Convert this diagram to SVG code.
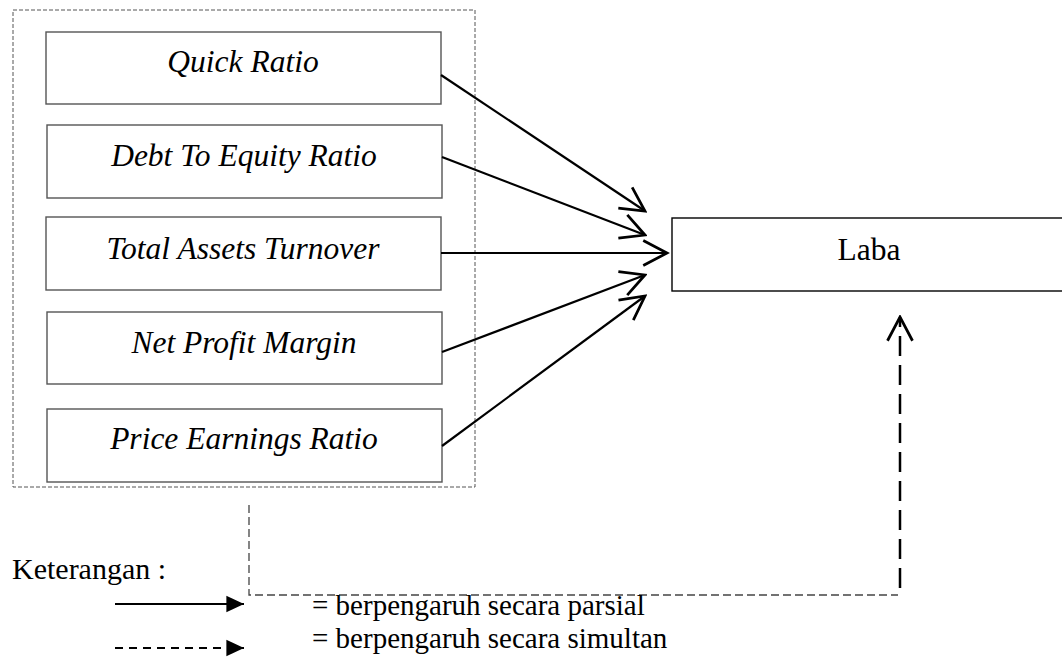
<svg xmlns="http://www.w3.org/2000/svg" width="1062" height="658" viewBox="0 0 1062 658">
<style>
.box{fill:#fff;stroke:#555;stroke-width:1.4}
.lbl{font-family:"Liberation Serif","Times New Roman",serif;font-style:italic;font-size:31.5px;fill:#000;text-anchor:middle}
.txt{font-family:"Liberation Serif","Times New Roman",serif;fill:#000}
.solid{stroke:#000;stroke-width:2.2;fill:none}
</style>
<defs>
<marker id="open" markerUnits="userSpaceOnUse" markerWidth="30" markerHeight="30" viewBox="-22 -12 24 24" refX="0" refY="0" orient="auto">
<path d="M-19,-10 L0,0 L-19,10" fill="none" stroke="#000" stroke-width="2.2"/>
</marker>
<marker id="fill" markerUnits="userSpaceOnUse" markerWidth="20" markerHeight="20" viewBox="-16 -8 17 16" refX="0" refY="0" orient="auto">
<path d="M-15,-7 L0,0 L-15,7 Z" fill="#000"/>
</marker>
</defs>
<rect id="group-box" x="13" y="10" width="462" height="477" fill="none" stroke="#555" stroke-width="1" stroke-dasharray="4,2"/>
<g id="quick"><rect class="box" x="46" y="32" width="395" height="72"/><text class="lbl" x="243" y="72">Quick Ratio</text></g>
<g id="debt"><rect class="box" x="47" y="125" width="395" height="73"/><text class="lbl" x="244" y="166">Debt To Equity Ratio</text></g>
<g id="tato"><rect class="box" x="46" y="217" width="395" height="73"/><text class="lbl" x="243" y="259">Total Assets Turnover</text></g>
<g id="npm"><rect class="box" x="47" y="312" width="395" height="72"/><text class="lbl" x="244" y="353">Net Profit Margin</text></g>
<g id="per"><rect class="box" x="47" y="409" width="395" height="73"/><text class="lbl" x="244" y="449">Price Earnings Ratio</text></g>
<g id="laba"><rect x="672" y="218" width="400" height="73" fill="#fff" stroke="#000" stroke-width="1.4"/><text class="txt" x="869" y="260" font-size="31.5" text-anchor="middle">Laba</text></g>
<g id="connectors">
<line class="solid" x1="441" y1="75" x2="645" y2="211" marker-end="url(#open)"/>
<line class="solid" x1="442" y1="157" x2="645" y2="235" marker-end="url(#open)"/>
<line class="solid" x1="441" y1="253" x2="667" y2="253" marker-end="url(#open)"/>
<line class="solid" x1="442" y1="352" x2="645" y2="275" marker-end="url(#open)"/>
<line class="solid" x1="442" y1="446" x2="645" y2="296" marker-end="url(#open)"/>
<polyline points="249,505 249,595 898,595" fill="none" stroke="#444" stroke-width="1.3" stroke-dasharray="8,4"/>
<line x1="900" y1="588" x2="900" y2="317" stroke="#000" stroke-width="2.5" stroke-dasharray="20,9" marker-end="url(#open)"/>
</g>
<g id="legend">
<text class="txt" x="12" y="579" font-size="30">Keterangan :</text>
<line x1="115" y1="604" x2="244" y2="604" stroke="#000" stroke-width="2.2" marker-end="url(#fill)"/>
<line x1="115" y1="648" x2="244" y2="648" stroke="#000" stroke-width="2.2" stroke-dasharray="8,6" marker-end="url(#fill)"/>
<text class="txt" x="312" y="615" font-size="29">= berpengaruh secara parsial</text>
<text class="txt" x="312" y="648" font-size="29">= berpengaruh secara simultan</text>
</g>
</svg>
